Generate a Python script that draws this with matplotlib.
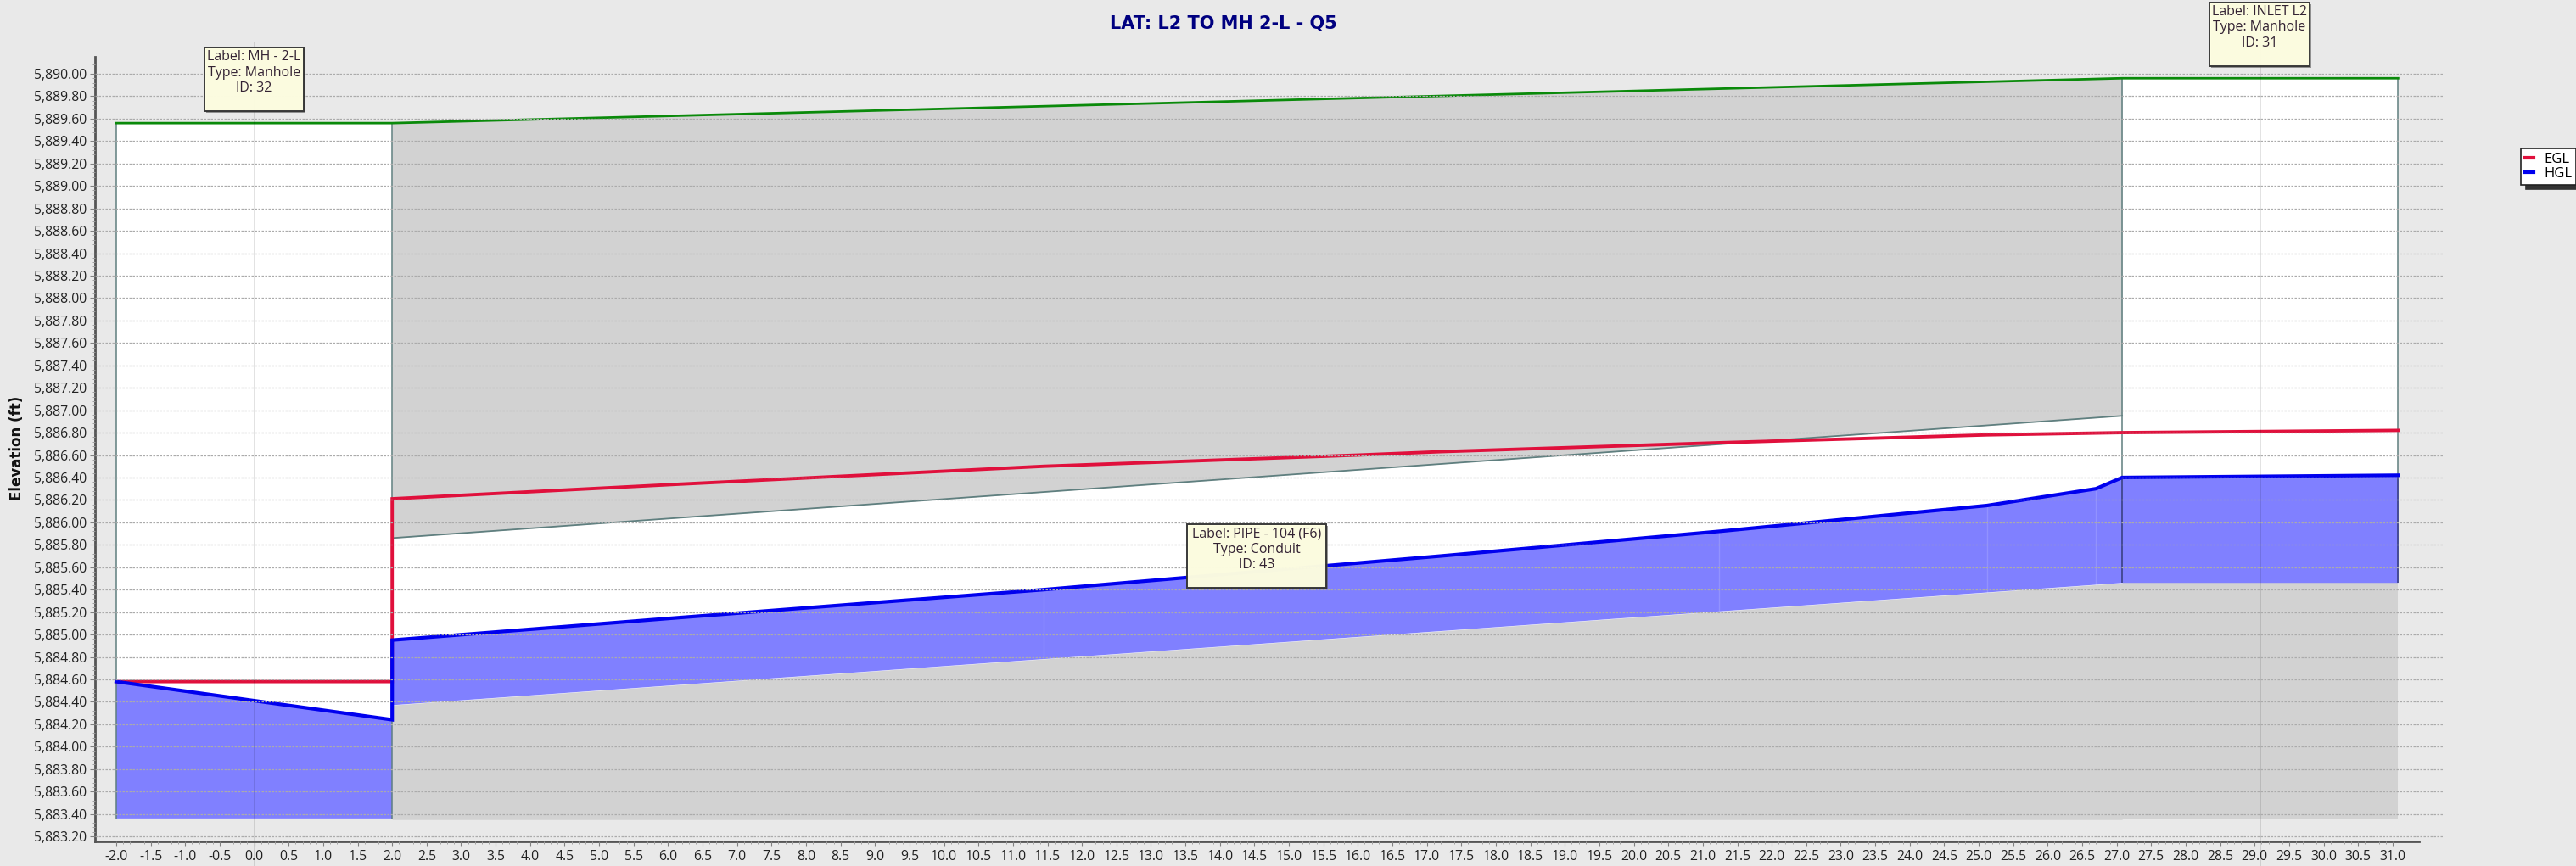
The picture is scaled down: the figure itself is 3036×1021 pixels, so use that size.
import numpy as np
import matplotlib
matplotlib.use("Agg")
import matplotlib.pyplot as plt
from matplotlib.patches import Rectangle

plt.rcParams['font.family'] = ['Open Sans', 'DejaVu Sans']

W, H = 3036, 1021

title = "LAT: L2 TO MH 2-L - Q5"
ylabel = "Elevation (ft)"

# upstream manhole
mh1_x = [-2.0, 2.0]
mh1_top = [5889.56, 5889.56]
mh1_bottom = 5883.36

# downstream manhole
mh2_x = [27.08, 31.08]
mh2_top = [5889.96, 5889.96]
mh2_invert = 5885.46
mh2_bottom = 5883.35

# conduit
pipe_x = [2.0, 27.08]
pipe_ground = [5889.56, 5889.96]
pipe_crown = [5885.86, 5886.95]
pipe_invert = [5884.37, 5885.46]

egl_x = [-2.0, 2.0, 2.0, 6.15, 11.45, 16.0, 17.2, 21.24, 25.12, 27.08, 31.08]
egl_y = [5884.58, 5884.58, 5886.21, 5886.34, 5886.50, 5886.60, 5886.63, 5886.71, 5886.78, 5886.80, 5886.82]

hgl_x1 = [-2.0, 2.0]
hgl_y1 = [5884.58, 5884.24]
hgl_x2 = [2.0, 6.15, 11.45, 17.2, 21.24, 25.12, 26.7, 27.08]
hgl_y2 = [5884.95, 5885.15, 5885.40, 5885.70, 5885.92, 5886.15, 5886.30, 5886.40]
hgl_x3 = [27.08, 31.08]
hgl_y3 = [5886.40, 5886.42]

seam_x = [11.45, 21.24, 25.12, 26.7]
seam_bottom = [5884.78, 5885.21, 5885.37, 5885.44]
seam_top = [5885.40, 5885.92, 5886.15, 5886.30]

guide_x = [0.0, 29.08]

x_ticks = np.arange(-2.0, 31.01, 0.5)
y_ticks = np.arange(5883.2, 5890.01, 0.2)

tips = [
    (["Label: MH - 2-L", "Type: Manhole", "ID: 32"], 241, 56, 117, 75),
    (["Label: PIPE - 104 (F6)", "Type: Conduit", "ID: 43"], 1399, 618, 164, 75),
    (["Label: INLET L2", "Type: Manhole", "ID: 31"], 2604, 3, 118, 75),
]

GREY = '#d2d2d2'
BLUEFILL = '#8080ff'
EDGE = '#5f7f7f'
GREEN = '#0a8a0a'
RED = '#e0103c'
BLUE = '#0000ee'

fig = plt.figure(figsize=(W/100, H/100), dpi=100, facecolor='#e9e9e9')
ax = fig.add_axes([112/W, 1-992/H, (2880-112)/W, (992-67)/H], facecolor='none')

# white manholes and conduit, grey soil round them
ax.fill_between(mh1_x, mh1_bottom, mh1_top, color='white', lw=0, zorder=1)
ax.fill_between(mh2_x, mh2_invert, mh2_top, color='white', lw=0, zorder=1)
ax.fill_between(mh2_x, mh2_bottom, mh2_invert, color=GREY, lw=0, zorder=1)
ax.fill_between(pipe_x, pipe_invert, pipe_crown, color='white', lw=0, zorder=1)
ax.fill_between(pipe_x, pipe_crown, pipe_ground, color=GREY, lw=0, zorder=1)
ax.fill_between(pipe_x, mh2_bottom, pipe_invert, color=GREY, lw=0, zorder=1)

# water
ax.fill(hgl_x1 + hgl_x1[::-1], hgl_y1 + [mh1_bottom, mh1_bottom], color=BLUEFILL, lw=0, zorder=1.2)
ax.fill(hgl_x2 + pipe_x[::-1], hgl_y2 + pipe_invert[::-1], color=BLUEFILL, lw=0, zorder=1.2)
ax.fill(hgl_x3 + hgl_x3[::-1], hgl_y3 + [mh2_invert, mh2_invert], color=BLUEFILL, lw=0, zorder=1.2)
ax.vlines(seam_x, seam_bottom, seam_top, color='white', alpha=0.15, lw=1, zorder=1.3)

# outlines
ax.vlines(mh1_x, mh1_bottom, mh1_top, color=EDGE, lw=1.1, zorder=1.5)
ax.vlines(mh2_x, mh2_invert, mh2_top, color=EDGE, lw=1.1, zorder=1.5)
ax.vlines(mh2_x, mh2_invert, hgl_y3, color='#3c3c98', lw=1.1, zorder=1.6)
ax.plot(pipe_x, pipe_crown, color=EDGE, lw=1.3, zorder=1.5)
ax.plot(mh1_x + pipe_x + mh2_x, mh1_top + pipe_ground + mh2_top, color=GREEN, lw=2.0, zorder=2)

line_egl, = ax.plot(egl_x, egl_y, color=RED, lw=2.8, zorder=2, label='EGL', solid_joinstyle='miter')
line_hgl, = ax.plot(hgl_x1 + hgl_x2 + hgl_x3, hgl_y1 + hgl_y2 + hgl_y3, color=BLUE, lw=3.0, zorder=2, label='HGL', solid_joinstyle='miter')

ax.set_xlim(-2.3075, 31.74)
ax.set_ylim(5883.155, 5890.151)

for s in ['top', 'right']:
    ax.spines[s].set_visible(False)
for s in ['left', 'bottom']:
    ax.spines[s].set_color('#555555')
    ax.spines[s].set_linewidth(2.0)
ax.spines['bottom'].set_bounds(-2.3075, 31.38)

ax.set_xticks(x_ticks)
ax.set_xticklabels(["%.1f" % v for v in x_ticks])
ax.set_yticks(y_ticks)
ax.set_yticklabels(["{:,.2f}".format(v) for v in y_ticks])
ax.set_xticks(np.arange(-2.0, 31.01, 0.1), minor=True)
ax.set_yticks(np.arange(5883.2, 5890.11, 0.04), minor=True)
ax.tick_params(axis='both', which='major', length=4, width=0.8, color='#808080', labelsize=11.3, labelcolor='#222222')
ax.tick_params(axis='both', which='minor', length=2.5, width=0.7, color='#a0a0a0')
ax.tick_params(axis='x', pad=3)
ax.tick_params(axis='y', pad=3)

ax.set_axisbelow(False)
ax.grid(axis='y', which='major', color='#ababab', lw=0.9, ls=(0, (2, 1.2)))

# vertical guides through the manhole centres, they run past the axes
for gx in guide_x:
    ax.plot([gx, gx], [-0.031, 1.0184], transform=ax.get_xaxis_transform(), color='black',
            alpha=0.15, lw=1.1, clip_on=False, zorder=2.2)

fig.text(1442/W, 1-28/H, title, ha='center', va='center', color='#000080',
         fontsize=15, fontweight='bold', family='DejaVu Sans')
fig.text(20/W, 1-528/H, ylabel, ha='center', va='center', rotation=90, color='#111111',
         fontsize=12, fontweight='bold', family='DejaVu Sans')

# hover labels
for lines, px, py, pw, ph in tips:
    fig.add_artist(Rectangle(((px+2)/W, 1-(py+ph+2)/H), pw/W, ph/H, transform=fig.transFigure,
                             facecolor='#555555', edgecolor='none', alpha=0.6, zorder=5))
    fig.add_artist(Rectangle((px/W, 1-(py+ph)/H), pw/W, ph/H, transform=fig.transFigure,
                             facecolor='#ffffe2', edgecolor='#333333', lw=1.4, alpha=0.97, zorder=6))
    for i, t in enumerate(lines):
        fig.text((px+pw/2)/W, 1-(py+11+18.5*i)/H, t, ha='center', va='center', fontsize=11.5,
                 color='#332233', zorder=7)

leg = fig.legend(handles=[line_egl, line_hgl], loc='upper right', bbox_to_anchor=(1.0, 1-175/H),
                 borderaxespad=0, fontsize=12, handlelength=0.6, handletextpad=0.7, labelspacing=0.05,
                 borderpad=0.3, fancybox=False, framealpha=1, edgecolor='#222222',
                 shadow={'ox': 4, 'oy': -4, 'color': '#333333', 'alpha': 1})
leg.get_frame().set_linewidth(1.2)
for h in leg.legend_handles:
    h.set_linewidth(3)

fig.savefig('out.png', dpi=100, facecolor=fig.get_facecolor())
